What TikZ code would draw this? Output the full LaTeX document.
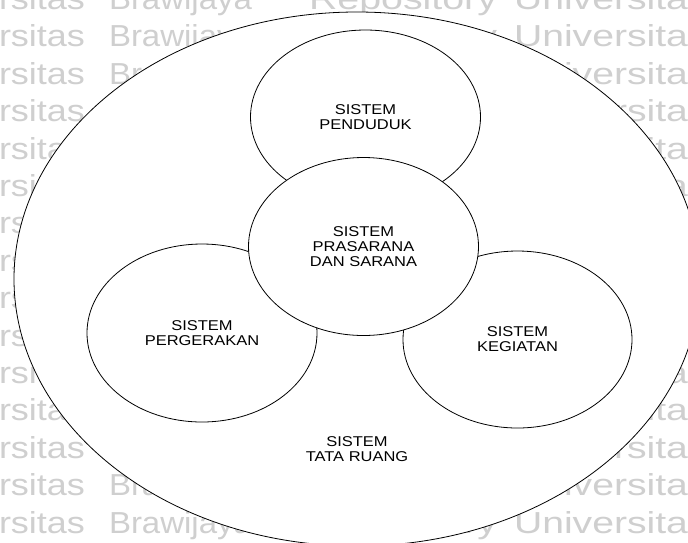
\documentclass[tikz,border=0pt]{standalone}
\usepackage{fontspec}
\setmainfont{Liberation Sans}
\newfontfamily\labfont[FakeStretch=1.16]{Liberation Sans}
\newfontfamily\wmfont{Liberation Sans}
\usetikzlibrary{shapes.geometric}
\begin{document}
\begin{tikzpicture}[x=1pt,y=-1pt,
  labeltext/.style={align=center,font=\labfont\fontsize{14.2}{15}\selectfont},
  sysring/.style={ellipse,draw=black,line width=0.8pt,fill=white,inner sep=0pt,labeltext},
  wmword/.style={anchor=base west,inner sep=0pt,outer sep=0pt,text=black!19}]
% page frame
\useasboundingbox (0,0) rectangle (688,542);
\fill[white] (0,0) rectangle (688,542);
% repeated background lettering
\foreach \k in {0,...,14}{
  \pgfmathsetmacro{\yb}{9.5+37.4*\k}
  \node[wmword] (wa\k) at (-1,\yb) {\resizebox{86pt}{22pt}{\wmfont rsitas}};
  \node[wmword] (wb\k) at (109,\yb) {\resizebox{143pt}{22pt}{\wmfont Brawijaya}};
  \node[wmword] (wc\k) at (309,\yb) {\resizebox{188pt}{22pt}{\wmfont Repository}};
  \node[wmword] (wd\k) at (514,\yb) {\resizebox{174pt}{22pt}{\wmfont Universita}};
}
% outer system
\node[sysring,minimum width=686pt,minimum height=534pt] (ruang) at (357,279) {};
\node[labeltext,inner sep=0pt] (ruanglbl) at (357,449) {SISTEM\\TATA RUANG};
% three surrounding systems
\node[sysring,minimum width=230pt,minimum height=174pt] (penduduk) at (365.5,117) {SISTEM\\PENDUDUK};
\node[sysring,minimum width=230pt,minimum height=178pt] (gerak) at (202,333) {SISTEM\\PERGERAKAN};
\node[sysring,minimum width=229pt,minimum height=177pt] (giat) at (517.5,339.5) {SISTEM\\KEGIATAN};
% central system drawn on top
\node[sysring,minimum width=230pt,minimum height=178pt] (prasarana) at (363.5,246.5) {SISTEM\\PRASARANA\\DAN SARANA};
\end{tikzpicture}
\end{document}
